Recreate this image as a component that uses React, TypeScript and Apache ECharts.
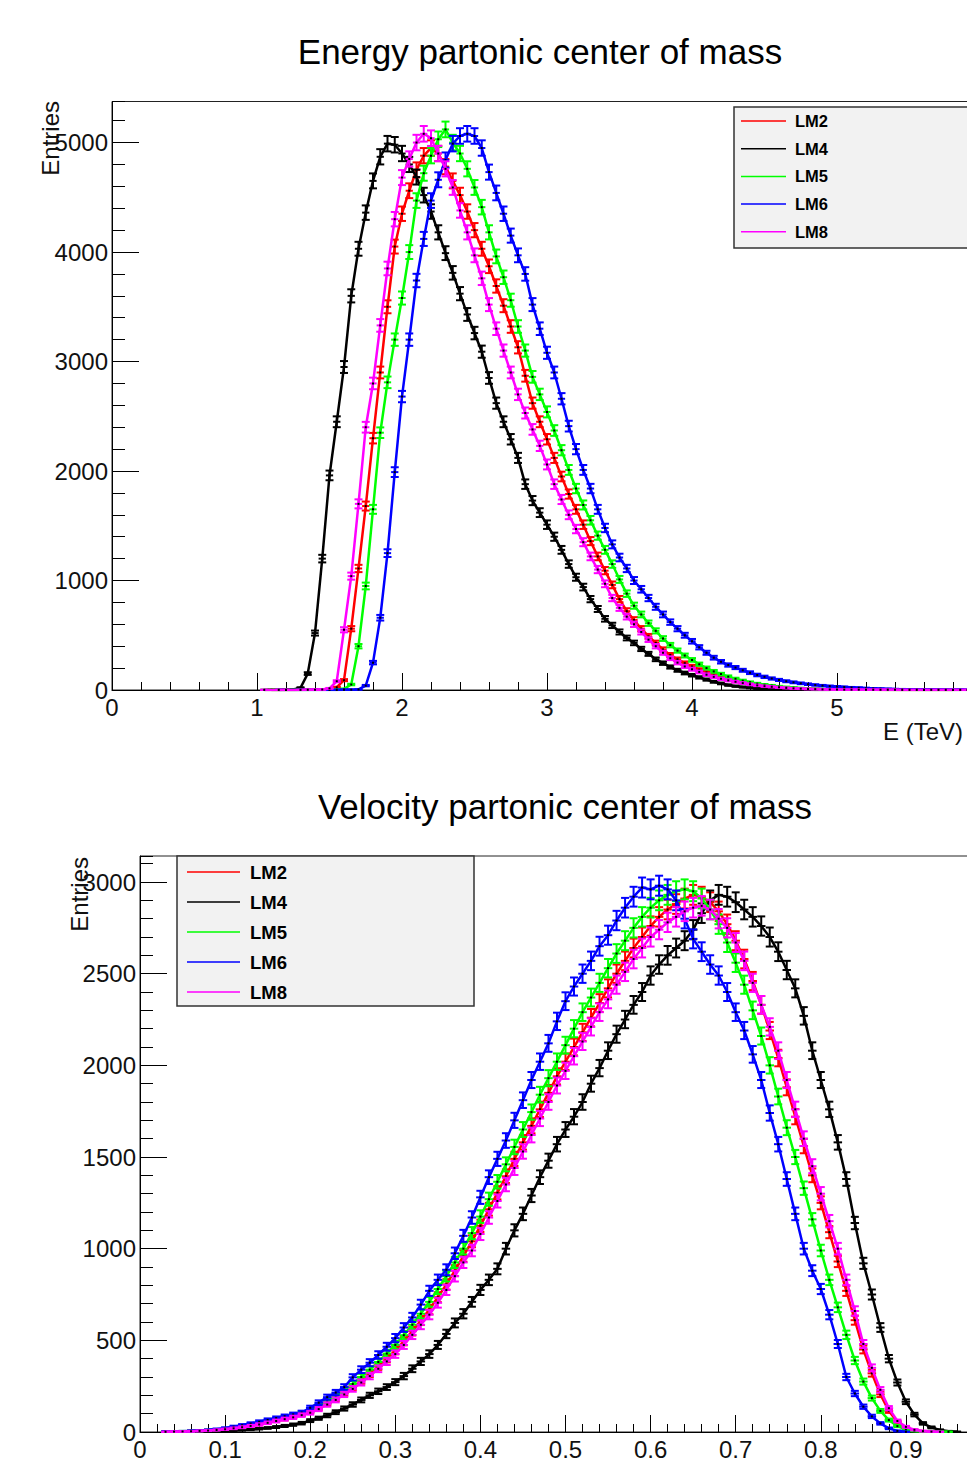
import React, { useEffect, useRef } from "react";
import * as echarts from "echarts";

// ---------- data ----------
const seriesNames = ["LM2", "LM4", "LM5", "LM6", "LM8"];
const seriesColors = ["#ff0000", "#000000", "#00ff00", "#0000ff", "#ff00ff"];

// Energy histogram: bin centres from 1.05 TeV, 0.05 TeV wide (99 bins)
const energyBinStart = 1.05;
const energyBinWidth = 0.05;

const energyLM2 = [
  0, 1, 0, 1, 1, 2, 2, 3, 3, 8,
  25, 90, 560, 1110, 1680, 2300, 2900, 3500, 4050, 4350,
  4560, 4750, 4880, 4950, 4900, 4780, 4650, 4520, 4370, 4200,
  4030, 3870, 3690, 3510, 3320, 3130, 2870, 2620, 2450, 2290,
  2120, 1950, 1790, 1650, 1510, 1360, 1220, 1090, 960, 830,
  720, 640, 560, 490, 430, 370, 320, 280, 245, 215,
  185, 160, 135, 115, 96, 80, 67, 56, 46, 38,
  31, 25, 20, 16, 13, 10, 8, 6, 5, 4,
  3, 3, 2, 2, 2, 1, 1, 1, 1, 1,
  1, 0, 1, 0, 0, 1, 0, 0, 0,
];
const energyLM4 = [
  1, 1, 1, 2, 4, 20, 150, 520, 1200, 1960,
  2450, 2950, 3600, 4030, 4360, 4650, 4870, 4990, 4980, 4900,
  4800, 4685, 4520, 4370, 4180, 3990, 3810, 3620, 3430, 3260,
  3090, 2850, 2620, 2450, 2290, 2120, 1880, 1730, 1620, 1510,
  1400, 1280, 1150, 1030, 940, 830, 740, 650, 590, 530,
  475, 430, 375, 330, 280, 245, 210, 180, 155, 135,
  115, 95, 75, 60, 45, 35, 27, 20, 14, 10,
  8, 6, 4, 3, 2, 2, 1, 1, 1, 0,
  0, 0, 0, 0, 0, 0, 0, 0, 0, 0,
  0, 0, 0, 0, 0, 0, 0, 0, 0,
];
const energyLM5 = [
  0, 1, 0, 0, 1, 1, 1, 2, 2, 3,
  5, 10, 50, 400, 950, 1650, 2350, 2810, 3200, 3580,
  4000, 4470, 4720, 4880, 5030, 5120, 5000, 4900, 4760, 4590,
  4410, 4180, 3960, 3770, 3560, 3320, 3100, 2860, 2700, 2540,
  2370, 2190, 2010, 1840, 1690, 1550, 1410, 1280, 1150, 1010,
  880, 770, 690, 610, 540, 470, 410, 360, 315, 275,
  235, 200, 170, 145, 122, 102, 85, 70, 58, 48,
  40, 32, 26, 21, 17, 13, 10, 8, 6, 5,
  4, 3, 3, 2, 2, 2, 1, 1, 1, 1,
  1, 1, 0, 1, 0, 0, 1, 0, 0,
];
const energyLM6 = [
  0, 0, 1, 0, 0, 1, 1, 1, 1, 1,
  1, 2, 3, 5, 40, 250, 660, 1250, 1990, 2680,
  3200, 3740, 4120, 4470, 4660, 4840, 4990, 5060, 5080, 5060,
  4950, 4730, 4540, 4350, 4150, 3970, 3800, 3520, 3300, 3080,
  2900, 2660, 2410, 2200, 2010, 1840, 1650, 1480, 1330, 1210,
  1110, 1000, 920, 840, 760, 690, 620, 560, 500, 445,
  390, 340, 295, 258, 228, 205, 180, 158, 137, 120,
  105, 92, 80, 70, 61, 53, 46, 40, 35, 31,
  27, 23, 20, 17, 14, 12, 10, 8, 7, 6,
  5, 4, 4, 3, 3, 2, 3, 2, 2,
];
const energyLM8 = [
  1, 0, 1, 1, 0, 1, 2, 3, 5, 15,
  80, 550, 1040, 1700, 2400, 2800, 3330, 3850, 4300, 4680,
  4850, 5000, 5080, 5040, 4900, 4760, 4590, 4380, 4180, 3970,
  3760, 3520, 3300, 3100, 2900, 2700, 2530, 2380, 2230, 2060,
  1880, 1740, 1600, 1470, 1350, 1220, 1100, 970, 840, 750,
  670, 600, 530, 460, 400, 340, 290, 250, 215, 190,
  165, 140, 120, 102, 88, 75, 63, 52, 42, 35,
  29, 24, 19, 15, 12, 10, 8, 6, 5, 4,
  3, 3, 3, 2, 2, 2, 2, 2, 1, 1,
  1, 1, 1, 1, 1, 1, 1, 1, 1,
];

// Velocity histogram: bin centres from 0.03, 0.01 wide (94 bins)
const velocityBinStart = 0.03;
const velocityBinWidth = 0.01;

const velocityLM2 = [
  1, 2, 3, 5, 6, 9, 12, 16, 21, 27,
  35, 43, 52, 62, 72, 84, 97, 112, 132, 156,
  182, 212, 245, 280, 318, 358, 400, 445, 495, 550,
  608, 668, 735, 805, 880, 960, 1040, 1125, 1215, 1305,
  1395, 1490, 1580, 1670, 1760, 1850, 1940, 2020, 2100, 2180,
  2260, 2340, 2420, 2500, 2570, 2640, 2700, 2760, 2810, 2850,
  2880, 2910, 2930, 2920, 2890, 2840, 2770, 2680, 2580, 2460,
  2330, 2190, 2040, 1880, 1720, 1560, 1400, 1250, 1090, 930,
  770, 610, 450, 320, 205, 115, 55, 24, 10, 4,
  2, 1, 0, 0,
];
const velocityLM4 = [
  1, 1, 2, 2, 3, 4, 5, 7, 9, 11,
  14, 18, 22, 27, 33, 40, 48, 62, 75, 90,
  108, 128, 150, 175, 200, 222, 245, 272, 305, 345,
  385, 425, 475, 535, 595, 645, 710, 775, 830, 890,
  1000, 1100, 1190, 1290, 1390, 1480, 1570, 1650, 1720, 1800,
  1900, 1985, 2080, 2170, 2250, 2330, 2400, 2490, 2550, 2600,
  2640, 2680, 2740, 2830, 2900, 2930, 2920, 2890, 2850, 2810,
  2760, 2700, 2620, 2520, 2420, 2270, 2080, 1920, 1760, 1580,
  1380, 1140, 920, 750, 570, 400, 270, 165, 95, 47,
  25, 11, 4, 1,
];
const velocityLM5 = [
  1, 2, 4, 5, 7, 10, 13, 18, 24, 31,
  39, 48, 58, 68, 79, 90, 103, 120, 142, 168,
  196, 228, 262, 300, 340, 382, 428, 475, 528, 585,
  645, 710, 780, 850, 925, 1000, 1085, 1175, 1270, 1365,
  1460, 1555, 1650, 1745, 1840, 1930, 2020, 2110, 2200, 2290,
  2370, 2450, 2530, 2610, 2680, 2750, 2810, 2860, 2900, 2930,
  2950, 2960, 2950, 2910, 2850, 2770, 2670, 2560, 2440, 2300,
  2160, 2000, 1830, 1660, 1500, 1330, 1160, 990, 830, 680,
  530, 390, 275, 185, 115, 65, 32, 14, 6, 3,
  2, 1, 1, 0,
];
const velocityLM6 = [
  2, 3, 4, 6, 8, 11, 15, 21, 29, 37,
  46, 56, 66, 76, 86, 96, 106, 132, 160, 190,
  215, 245, 298, 340, 378, 420, 465, 512, 570, 625,
  695, 770, 830, 885, 975, 1070, 1170, 1280, 1390, 1490,
  1590, 1700, 1810, 1920, 2020, 2120, 2240, 2350, 2430, 2500,
  2570, 2650, 2710, 2790, 2860, 2920, 2970, 2960, 2980, 2960,
  2900, 2800, 2690, 2620, 2550, 2490, 2400, 2290, 2190, 2060,
  1920, 1740, 1570, 1380, 1190, 1000, 880, 780, 640, 480,
  300, 210, 138, 85, 47, 20, 6, 1, 0, 0,
  0, 0, 0, 0,
];
const velocityLM8 = [
  1, 2, 3, 4, 6, 8, 11, 15, 20, 26,
  33, 41, 50, 60, 70, 80, 92, 105, 125, 150,
  175, 205, 235, 270, 305, 345, 385, 425, 475, 530,
  585, 640, 705, 775, 850, 925, 990, 1080, 1170, 1260,
  1350, 1440, 1530, 1620, 1710, 1800, 1890, 1970, 2050, 2130,
  2210, 2290, 2360, 2440, 2510, 2580, 2640, 2700, 2740, 2780,
  2810, 2840, 2860, 2870, 2850, 2800, 2750, 2670, 2570, 2450,
  2330, 2210, 2080, 1920, 1760, 1600, 1450, 1300, 1150, 1000,
  830, 660, 480, 350, 230, 130, 60, 28, 12, 5,
  2, 1, 0, 0,
];

const energySets = [energyLM2, energyLM4, energyLM5, energyLM6, energyLM8];
const velocitySets = [velocityLM2, velocityLM4, velocityLM5, velocityLM6, velocityLM8];

const FONT = '"Liberation Sans", Arial, Helvetica, sans-serif';

function toPoints(values: number[], start: number, width: number) {
  const pts: number[][] = [];
  values.forEach((v, i) => {
    if (v > 0) pts.push([+(start + i * width).toFixed(4), v]);
  });
  return pts;
}

function makeRenderItem(color: string, binWidth: number) {
  return (_params: any, api: any) => {
    const x = api.value(0);
    const y = api.value(1);
    const err = Math.sqrt(y);
    const c = api.coord([x, y]);
    const hi = api.coord([x, y + err]);
    const lo = api.coord([x, Math.max(0, y - err)]);
    const half = api.size([binWidth, 0])[0] / 2;
    const cap = 4;
    const st = { stroke: color, lineWidth: 2, fill: null };
    return {
      type: "group",
      children: [
        { type: "line", shape: { x1: c[0] - half, y1: c[1], x2: c[0] + half, y2: c[1] }, style: st },
        { type: "line", shape: { x1: c[0], y1: hi[1], x2: c[0], y2: lo[1] }, style: st },
        { type: "line", shape: { x1: c[0] - cap, y1: hi[1], x2: c[0] + cap, y2: hi[1] }, style: st },
        { type: "line", shape: { x1: c[0] - cap, y1: lo[1], x2: c[0] + cap, y2: lo[1] }, style: st },
        { type: "rect", shape: { x: c[0] - 1, y: c[1] - 1, width: 2, height: 2 }, style: { fill: "#000" } },
      ],
    };
  };
}

function legendGraphics(x: number, y: number, w: number, h: number, lx1: number, lx2: number, tx: number, row0: number, step: number, fs: number) {
  const els: any[] = [
    { type: "rect", shape: { x, y, width: w, height: h }, style: { fill: "#f2f2f2", stroke: "#333", lineWidth: 1.5 }, z: 20 },
  ];
  seriesNames.forEach((name, i) => {
    const yy = row0 + i * step;
    els.push({ type: "line", shape: { x1: lx1, y1: yy, x2: lx2, y2: yy }, style: { stroke: seriesColors[i], lineWidth: 1.5 }, z: 21 });
    els.push({
      type: "text", x: tx, y: yy, z: 21,
      style: { text: name, fill: "#000", fontSize: fs, fontWeight: "bold", fontFamily: FONT, align: "left", verticalAlign: "middle", textAlign: "left", textVerticalAlign: "middle" },
    });
  });
  return els;
}

function axisCommon(extra: any) {
  return {
    type: "value",
    axisLine: { show: true, onZero: false, lineStyle: { color: "#000", width: 1 } },
    splitLine: { show: false },
    minorSplitLine: { show: false },
    ...extra,
  };
}

const plainNumber = (v: number) => String(v);

export default function App() {
  const ref = useRef<HTMLDivElement>(null);

  useEffect(() => {
    if (!ref.current) return;
    const chart = echarts.init(ref.current, null, { renderer: "svg" });

    const labelStyle = { fontSize: 24, color: "#111", fontFamily: FONT, formatter: plainNumber };

    const series: any[] = [];
    const addPanel = (sets: number[][], start: number, width: number, xIdx: number, yIdx: number) => {
      seriesNames.forEach((name, i) => {
        const pts = toPoints(sets[i], start, width);
        series.push({
          type: "line", name, xAxisIndex: xIdx, yAxisIndex: yIdx, silent: true,
          data: pts, showSymbol: false, symbol: "none",
          lineStyle: { color: seriesColors[i], width: 2.5 },
          z: 2 + i * 2,
        });
        series.push({
          type: "custom", name, xAxisIndex: xIdx, yAxisIndex: yIdx, silent: true,
          renderItem: makeRenderItem(seriesColors[i], width),
          encode: { x: 0, y: 1 },
          data: pts,
          z: 3 + i * 2,
        });
      });
    };
    addPanel(energySets, energyBinStart, energyBinWidth, 0, 0);
    addPanel(velocitySets, velocityBinStart, velocityBinWidth, 1, 2);

    chart.setOption({
      animation: false,
      backgroundColor: "#fff",
      grid: [
        { left: 112, top: 101.5, width: 870, height: 588.5, show: true, borderColor: "#222", borderWidth: 1, backgroundColor: "transparent", outerBoundsMode: "none", containLabel: false },
        { left: 140, top: 856, width: 851, height: 576, show: true, borderColor: "#222", borderWidth: 1, backgroundColor: "transparent", outerBoundsMode: "none", containLabel: false },
      ],
      xAxis: [
        axisCommon({
          gridIndex: 0, position: "bottom", min: 0, max: 6, interval: 1,
          axisTick: { show: true, inside: true, length: 17, lineStyle: { color: "#000" } },
          minorTick: { show: true, splitNumber: 5, length: 8, lineStyle: { color: "#000" } },
          axisLabel: { ...labelStyle, margin: 5, showMaxLabel: false },
        }),
        axisCommon({
          gridIndex: 1, position: "bottom", min: 0, max: 1, interval: 0.1,
          axisTick: { show: true, inside: true, length: 17, lineStyle: { color: "#000" } },
          minorTick: { show: true, splitNumber: 5, length: 8, lineStyle: { color: "#000" } },
          axisLabel: { ...labelStyle, margin: 5, showMaxLabel: false },
        }),
      ],
      yAxis: [
        axisCommon({
          gridIndex: 0, position: "left", min: 0, max: 5375, interval: 1000,
          axisTick: { show: true, inside: true, length: 27, lineStyle: { color: "#000" } },
          axisLabel: { ...labelStyle, margin: 4, showMaxLabel: false },
        }),
        axisCommon({
          gridIndex: 0, position: "left", min: 0, max: 5375, interval: 200,
          axisLine: { show: false },
          axisTick: { show: true, inside: true, length: 13, lineStyle: { color: "#000" } },
          axisLabel: { show: false },
        }),
        axisCommon({
          gridIndex: 1, position: "left", min: 0, max: 3142, interval: 500,
          axisTick: { show: true, inside: true, length: 27, lineStyle: { color: "#000" } },
          axisLabel: { ...labelStyle, margin: 4, showMaxLabel: false },
        }),
        axisCommon({
          gridIndex: 1, position: "left", min: 0, max: 3142, interval: 100,
          axisLine: { show: false },
          axisTick: { show: true, inside: true, length: 13, lineStyle: { color: "#000" } },
          axisLabel: { show: false },
        }),
      ],
      series,
      graphic: [
        {
          type: "text", x: 540, y: 51.5, z: 30,
          style: { text: "Energy partonic center of mass", fill: "#000", fontSize: 35, fontFamily: FONT, align: "center", verticalAlign: "middle", textAlign: "center", textVerticalAlign: "middle" },
        },
        {
          type: "text", x: 565, y: 806, z: 30,
          style: { text: "Velocity partonic center of mass", fill: "#000", fontSize: 35, fontFamily: FONT, align: "center", verticalAlign: "middle", textAlign: "center", textVerticalAlign: "middle" },
        },
        {
          type: "text", x: 50, y: 101, rotation: Math.PI / 2, z: 30,
          style: { text: "Entries", fill: "#111", fontSize: 24, fontFamily: FONT, align: "right", verticalAlign: "middle", textAlign: "right", textVerticalAlign: "middle" },
        },
        {
          type: "text", x: 79, y: 857, rotation: Math.PI / 2, z: 30,
          style: { text: "Entries", fill: "#111", fontSize: 24, fontFamily: FONT, align: "right", verticalAlign: "middle", textAlign: "right", textVerticalAlign: "middle" },
        },
        {
          type: "text", x: 963, y: 731, z: 30,
          style: { text: "E (TeV)", fill: "#111", fontSize: 24, fontFamily: FONT, align: "right", verticalAlign: "middle", textAlign: "right", textVerticalAlign: "middle" },
        },
        ...legendGraphics(734, 107, 260, 141, 741, 786, 795, 121, 27.7, 16.5),
        ...legendGraphics(177, 856, 297, 150, 187, 240, 250, 872, 30, 18.5),
      ],
    });

    return () => chart.dispose();
  }, []);

  return (
    <div
      ref={ref}
      style={{ position: "absolute", left: 0, top: 0, width: 967, height: 1467, background: "#fff" }}
    />
  );
}
